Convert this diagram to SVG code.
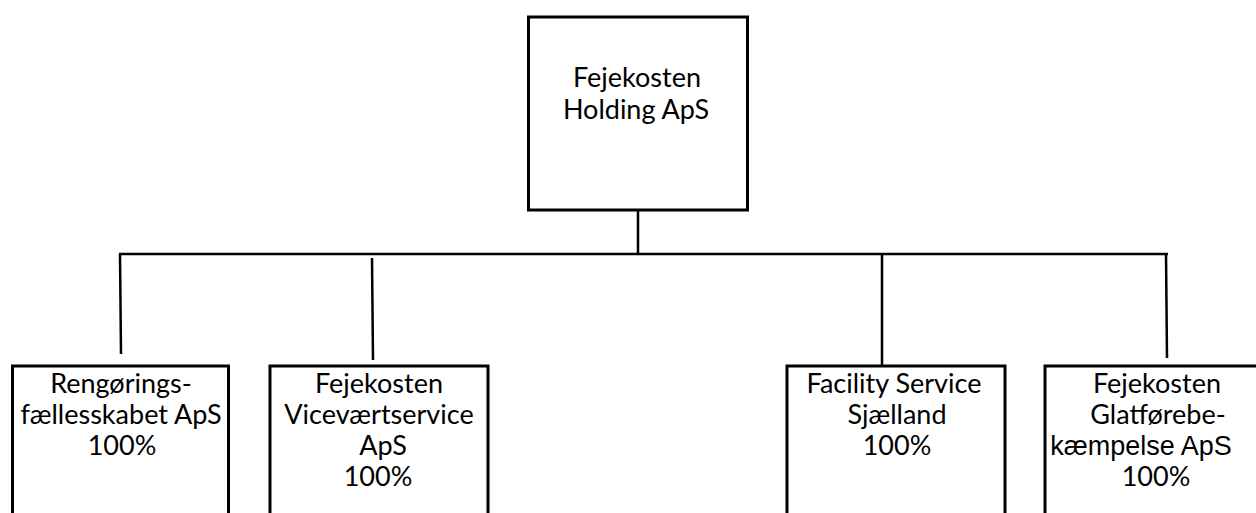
<svg xmlns="http://www.w3.org/2000/svg" width="1256" height="513" viewBox="0 0 1256 513">
<style>
.box{fill:#fff;stroke:#000;stroke-width:3}
.ln{stroke:#000;stroke-width:2.5;fill:none}
text{font-family:Lato,"Open Sans",sans-serif;font-size:27px;fill:#000;text-anchor:middle}
.ar{font-family:"Liberation Sans",Arial,sans-serif;font-size:27px}
</style>
<rect width="1256" height="513" fill="#fff"/>
<g id="connectors">
<line class="ln" x1="638" y1="210" x2="638" y2="254"/>
<line class="ln" x1="119" y1="254" x2="1168" y2="254"/>
<line class="ln" x1="120" y1="254" x2="121" y2="354"/>
<line class="ln" x1="372" y1="258" x2="373" y2="360"/>
<line class="ln" x1="882" y1="254" x2="882" y2="365"/>
<line class="ln" x1="1166" y1="254" x2="1167" y2="358"/>
</g>
<g id="holding">
<rect class="box" x="528.5" y="17" width="219" height="193"/>
<text x="637" y="87">Fejekosten</text>
<text x="636" y="119">Holding ApS</text>
</g>
<g id="rengoring">
<rect class="box" x="12.5" y="366" width="216" height="160"/>
<text x="121" y="393">Rengørings-</text>
<text x="121" y="424">fællesskabet ApS</text>
<text x="122" y="455">100%</text>
</g>
<g id="vicevaert">
<rect class="box" x="270" y="366" width="218" height="160"/>
<text x="379" y="393">Fejekosten</text>
<text x="379" y="424">Viceværtservice</text>
<text x="383" y="455">ApS</text>
<text x="378" y="486">100%</text>
</g>
<g id="facility">
<rect class="box" x="787" y="366" width="218" height="160"/>
<text x="894" y="393">Facility Service</text>
<text x="897" y="424">Sjælland</text>
<text x="897" y="455">100%</text>
</g>
<g id="glatfore">
<rect class="box" x="1045" y="366" width="220" height="160"/>
<text x="1157" y="393">Fejekosten</text>
<text x="1158" y="424">Glatførebe-</text>
<text class="ar" x="1141" y="455">kæmpelse ApS</text>
<text x="1156" y="486">100%</text>
</g>
</svg>
